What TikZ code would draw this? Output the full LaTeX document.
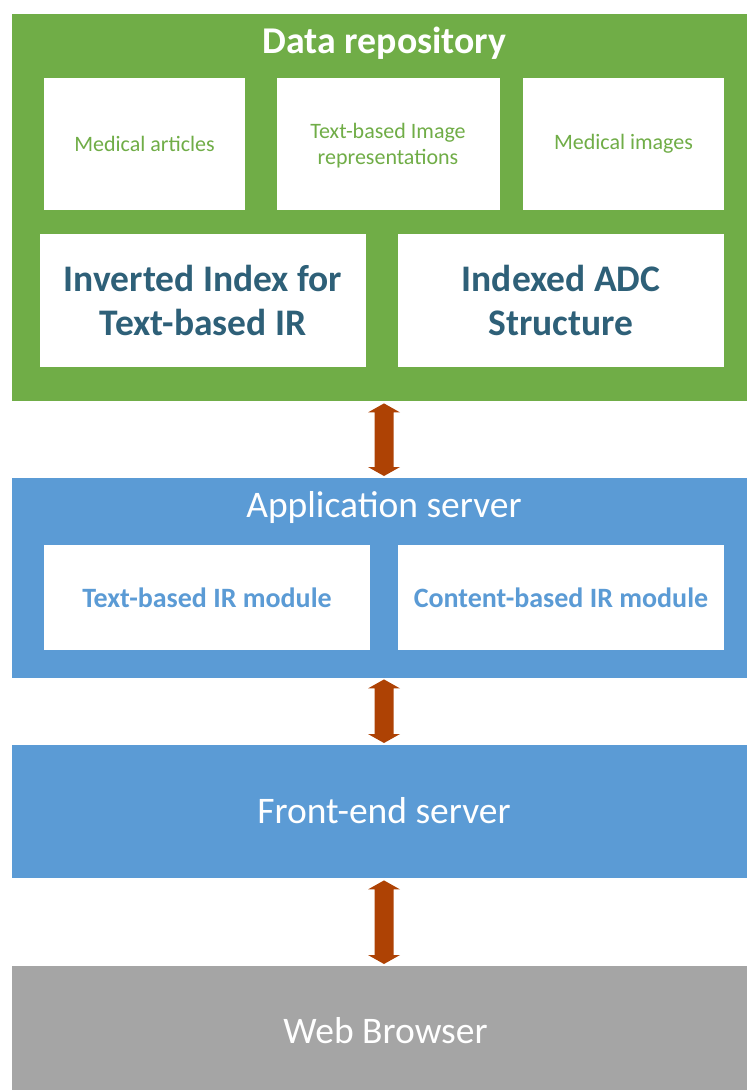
\documentclass[tikz,border=0pt]{standalone}
\usepackage{fontspec}
\setmainfont{Carlito}
\usetikzlibrary{calc}
\definecolor{repogreen}{RGB}{112,173,71}
\definecolor{tierblue}{RGB}{91,155,213}
\definecolor{clientgray}{RGB}{165,165,165}
\definecolor{linkbrown}{RGB}{174,66,4}
\definecolor{indexteal}{RGB}{46,96,120}
\tikzset{
  layer/.style={rectangle, inner sep=0pt, anchor=north west},
  panel/.style={rectangle, fill=white, inner sep=0pt, align=center},
  smalltxt/.style={text=repogreen, font=\fontsize{22}{26}\selectfont},
  bigtxt/.style={text=indexteal, font=\fontsize{37.5}{44}\selectfont\bfseries},
  modtxt/.style={text=tierblue, font=\fontsize{28}{33}\selectfont\bfseries},
  headtxt/.style={text=white, inner sep=0pt, anchor=base, font=\fontsize{37.5}{44}\selectfont},
  link/.style={fill=linkbrown},
}
% double-headed link between two points (top tip, bottom tip)
\newcommand{\dbllink}[2]{%
  \fill[link] (#1) -- ($(#1)+(16,9)$) -- ($(#1)+(9.5,9)$) -- ($(#2)+(9.5,-9)$)
    -- ($(#2)+(16,-9)$) -- (#2) -- ($(#2)+(-16,-9)$) -- ($(#2)+(-9.5,-9)$)
    -- ($(#1)+(-9.5,9)$) -- ($(#1)+(-16,9)$) -- cycle;}
\begin{document}
\begin{tikzpicture}[x=1pt,y=-1pt]
\useasboundingbox (0,0) rectangle (747,1090);

% data repository tier
\node[layer, fill=repogreen, minimum width=735pt, minimum height=387pt] (repo) at (12,14) {};
\node[headtxt, font=\fontsize{37.8}{44}\selectfont\bfseries] (repotitle) at (384.5,53) {Data repository};
\node[panel, smalltxt, minimum width=201pt, minimum height=132pt] (articles) at (144.5,144) {Medical articles};
\node[panel, smalltxt, minimum width=223pt, minimum height=132pt] (textimg) at (388.5,144) {};
\node[smalltxt, align=center, inner sep=0pt] (textimglbl) at (388,146) {Text-based Image\\representations};
\node[panel, smalltxt, minimum width=201pt, minimum height=132pt] (images) at (623.5,144) {Medical images};
\node[panel, bigtxt, minimum width=326pt, minimum height=133pt] (invidx) at (203,300.5) {Inverted Index for\\Text-based IR};
\node[panel, bigtxt, minimum width=326pt, minimum height=133pt] (adc) at (561,300.5) {Indexed ADC\\Structure};

% application server tier
\node[layer, fill=tierblue, minimum width=735pt, minimum height=200pt] (app) at (12,478) {};
\node[headtxt] (apptitle) at (384,517) {Application server};
\node[panel, modtxt, minimum width=326pt, minimum height=105pt] (textmod) at (207,597.5) {Text-based IR module};
\node[panel, modtxt, minimum width=326pt, minimum height=105pt] (contmod) at (561,597.5) {Content-based IR module};

% front-end server tier
\node[layer, fill=tierblue, minimum width=735pt, minimum height=133pt] (front) at (12,745) {};
\node[headtxt] (fronttitle) at (384,823) {Front-end server};

% client tier
\node[layer, fill=clientgray, minimum width=735pt, minimum height=124pt] (web) at (12,966) {};
\node[headtxt] (webtitle) at (385.5,1043) {Web Browser};

% links between tiers
\coordinate (axis) at (384,0);
\coordinate (l1a) at ($(repo.south -| axis)+(0,2)$);
\coordinate (l1b) at ($(app.north -| axis)+(0,-2)$);
\coordinate (l2a) at ($(app.south -| axis)+(0,1)$);
\coordinate (l2b) at ($(front.north -| axis)+(0,-2)$);
\coordinate (l3a) at ($(front.south -| axis)+(0,2)$);
\coordinate (l3b) at ($(web.north -| axis)+(0,-2)$);
\dbllink{l1a}{l1b}
\dbllink{l2a}{l2b}
\dbllink{l3a}{l3b}
\end{tikzpicture}
\end{document}
